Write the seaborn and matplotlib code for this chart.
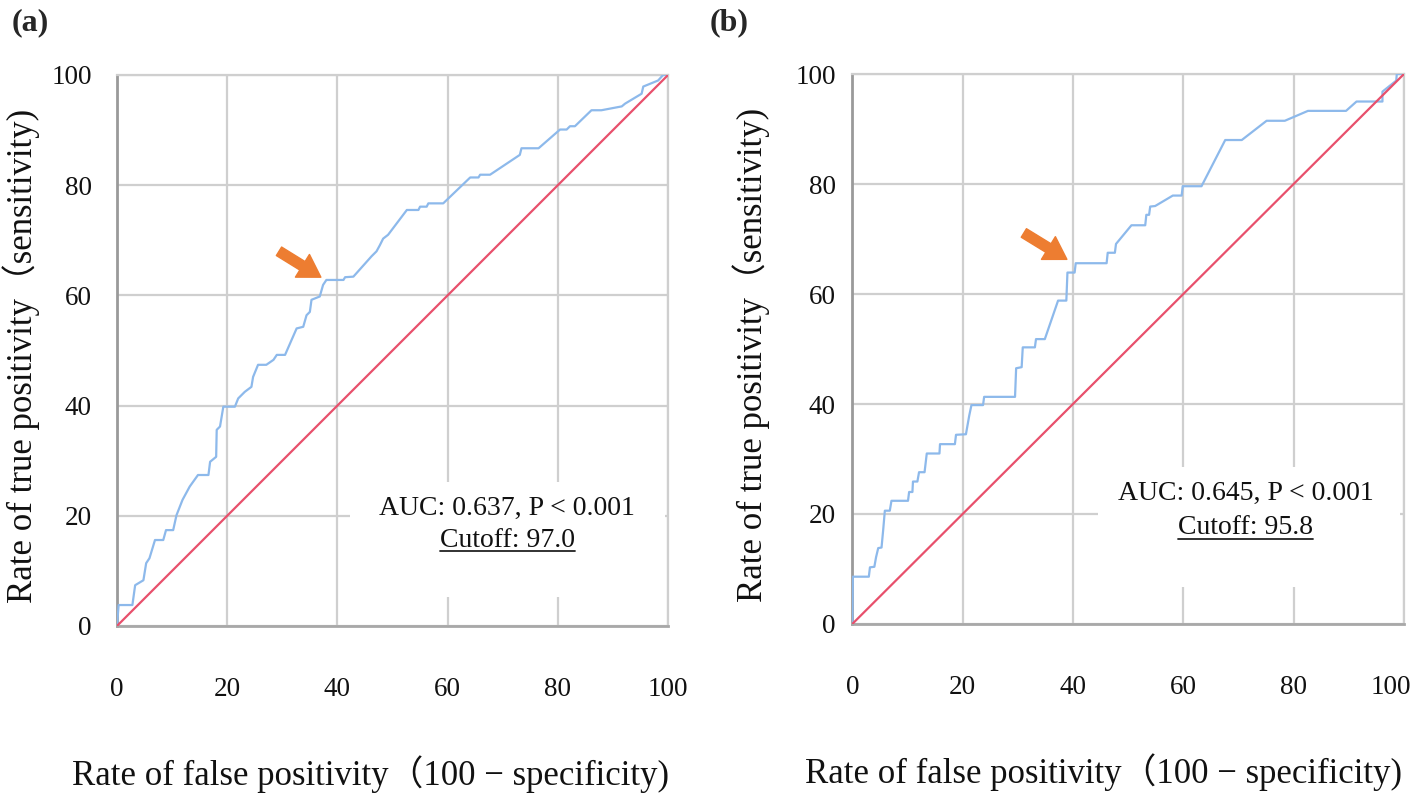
import matplotlib
matplotlib.use("Agg")
import matplotlib.pyplot as plt
import matplotlib.transforms as mtransforms
import seaborn as sns
from matplotlib.patches import Rectangle
from matplotlib.lines import Line2D

# ROC curve vertices (false positive %, true positive %)
fpr_a = [0, 0.3, 2.8, 3.3, 4.8, 5.3, 5.9, 6.9, 8.4, 8.9, 10.2, 10.8, 11.9, 13.2, 14.7, 16.6,
         16.9, 18, 18.1, 18.7, 19.3, 21.4, 22, 23.2, 24.4, 24.7, 25.6, 27.1, 28.4, 29, 30.5,
         32.6, 33.8, 34.4, 35, 35.3, 36.8, 37.4, 38, 41.1, 41.4, 42.9, 46.2, 47.1, 47.7, 48.3,
         49.2, 52.6, 54.7, 55, 56.2, 56.5, 59.2, 64.1, 65.6, 65.9, 67.7, 73.1, 73.4, 76.5,
         80.4, 81.6, 82.2, 83.1, 86.1, 87.9, 91.6, 92.2, 95.2, 95.5, 98.2, 99.1, 100]
tpr_a = [0, 3.8, 3.8, 7.4, 8.3, 11.4, 12.3, 15.6, 15.6, 17.4, 17.4, 20.1, 22.9, 25.3, 27.4, 27.4,
         29.8, 30.7, 35.6, 36.2, 39.8, 39.8, 41.3, 42.5, 43.4, 45.2, 47.4, 47.4, 48.3, 49.2, 49.2,
         54, 54.3, 56.4, 57, 59.2, 59.8, 61.9, 62.8, 62.8, 63.3, 63.4, 67.1, 68, 69.1, 70.3,
         71, 75.5, 75.5, 76.1, 76.1, 76.7, 76.7, 81.4, 81.4, 81.9, 81.9, 85.5, 86.7, 86.7,
         90.1, 90.1, 90.7, 90.7, 93.6, 93.6, 94.3, 94.8, 96.6, 97.9, 99, 100, 100]

fpr_b = [0, 0.1, 3, 3.2, 4, 4.3, 4.7, 5.3, 5.6, 5.9, 6.8, 7.1, 10.1, 10.3, 10.9, 11, 11.8, 12.1,
         13.1, 13.5, 15.8, 15.9, 18.6, 18.8, 20.6, 21.2, 21.6, 23.7, 23.9, 29.5, 29.7, 30.7,
         30.9, 33.1, 33.3, 34.9, 37.3, 38.8, 39, 40.3, 40.5, 46.1, 46.3, 47.6, 47.8, 50.6,
         53.1, 53.3, 53.8, 54, 54.9, 58.1, 59.7, 59.9, 63.3, 67.6, 70.6, 75.1, 78.4, 82.6,
         89.5, 91.4, 96.1, 96.1, 98.6, 98.7, 100]
tpr_b = [0, 8.6, 8.6, 10.3, 10.4, 12.1, 13.8, 13.9, 17.1, 20.6, 20.6, 22.4, 22.4, 24, 24, 25.9,
         25.9, 27.6, 27.6, 31, 31, 32.7, 32.7, 34.4, 34.5, 37.9, 39.8, 39.8, 41.3, 41.3, 46.5,
         46.7, 50.3, 50.3, 51.8, 51.8, 58.8, 58.8, 63.9, 63.9, 65.6, 65.6, 67.5, 67.5, 69.1,
         72.5, 72.5, 74.4, 74.4, 75.9, 76, 77.9, 77.9, 79.6, 79.6, 88, 88, 91.5, 91.5, 93.3,
         93.3, 95, 95, 96.8, 98.8, 100, 100]

ref_line = [0, 100]
ticks = [0, 20, 40, 60, 80, 100]
panel_labels = ["(a)", "(b)"]
auc_texts = ["AUC: 0.637, P < 0.001", "AUC: 0.645, P < 0.001"]
cutoff_texts = ["Cutoff: 97.0", "Cutoff: 95.8"]
xlabel = "Rate of false positivity\uff08100 \u2212 specificity)"
ylabel = "Rate of true positivity\uff08sensitivity)"

sns.set_theme(style="whitegrid")
plt.rcParams["font.family"] = ["Liberation Serif", "Noto Sans CJK JP", "DejaVu Serif"]

fig = plt.figure(figsize=(14.16, 7.96), dpi=100)
ax_a = fig.add_axes([0.0826, 0.2136, 0.3892, 0.6922])
ax_b = fig.add_axes([0.6019, 0.2161, 0.3896, 0.6909])

# per panel: axes, data, white box (x, y, w, h), text pos (x, y_auc, y_cut),
# arrow (tip, tail), ytick pad, xlabel x, ylabel x
panels = [
    (ax_a, fpr_a, tpr_a, (42.3, 5.3, 57.2, 20.8), (70.8, 21.4, 15.6),
     ((37.0, 63.3), (29.4, 68.0)), 18, 0.46, -0.14),
    (ax_b, fpr_b, tpr_b, (44.6, 6.7, 54.7, 21.8), (71.3, 23.8, 17.5),
     ((38.9, 66.3), (31.1, 71.1)), 12, 0.455, -0.15),
]

cutoff_artists = []
for i, (ax, fx, ty, box, txt, arr, ypad, xlx, ylx) in enumerate(panels):
    sns.lineplot(x=fx, y=ty, sort=False, estimator=None, color="#8DB9EB", lw=1.6, ax=ax, zorder=3)
    sns.lineplot(x=ref_line, y=ref_line, sort=False, estimator=None, color="#E8506C", lw=1.6, ax=ax, zorder=3)

    ax.set_xlim(0, 100)
    ax.set_ylim(0, 100)
    ax.set_xticks(ticks)
    ax.set_yticks(ticks)
    ax.grid(True, color="#cfcfcf", lw=1.6)
    ax.set_axisbelow(True)
    ax.tick_params(length=0, labelsize=19.5, labelcolor="#111111")
    ax.tick_params(axis="x", pad=37)
    ax.tick_params(axis="y", pad=ypad)
    for side in ["top", "right"]:
        ax.spines[side].set_color("#cfcfcf")
        ax.spines[side].set_linewidth(1.6)
    ax.spines["left"].set_color("#9a9a9a")
    ax.spines["left"].set_linewidth(2)
    ax.spines["bottom"].set_color("#a8a8a8")
    ax.spines["bottom"].set_linewidth(2)

    ax.set_xlabel(xlabel, fontsize=25, color="#111111")
    ax.set_ylabel(ylabel, fontsize=25, color="#111111")
    ax.xaxis.set_label_coords(xlx, -0.235)
    ax.yaxis.set_label_coords(ylx, 0.49)

    # white box behind the annotation hides the grid
    ax.add_patch(Rectangle((box[0], box[1]), box[2], box[3], facecolor="white",
                           edgecolor="none", zorder=1))
    ax.text(txt[0], txt[1], auc_texts[i], ha="center", va="center", fontsize=20, color="#111111", zorder=4)
    t = ax.text(txt[0], txt[2], cutoff_texts[i], ha="center", va="center", fontsize=20,
                color="#111111", zorder=4)
    cutoff_artists.append(t)

    ax.annotate("", xy=arr[0], xytext=arr[1],
                arrowprops=dict(arrowstyle="simple,head_length=1.3,head_width=1.6,tail_width=0.6",
                                color="#ED7D31", mutation_scale=12, shrinkA=0, shrinkB=0),
                zorder=5)

# last x tick label of panel (b) sits a little left so it stays on the page
last = ax_b.get_xticklabels()[-1]
last.set_transform(last.get_transform() + mtransforms.ScaledTranslation(-13 / 100, 0, fig.dpi_scale_trans))

fig.text(0.0085, 0.972, panel_labels[0], fontsize=23, fontweight="bold", va="center", ha="left")
fig.text(0.5015, 0.972, panel_labels[1], fontsize=23, fontweight="bold", va="center", ha="left")

# underline the cutoff texts
fig.canvas.draw()
inv = fig.transFigure.inverted()
for t in cutoff_artists:
    bb = t.get_window_extent()
    (x0, y0), (x1, y1) = inv.transform([(bb.x0, bb.y0), (bb.x1, bb.y1)])
    fig.add_artist(Line2D([x0, x1], [y0 + 0.002, y0 + 0.002], color="#222222", lw=1.3))

fig.savefig("out.png", dpi=100)
